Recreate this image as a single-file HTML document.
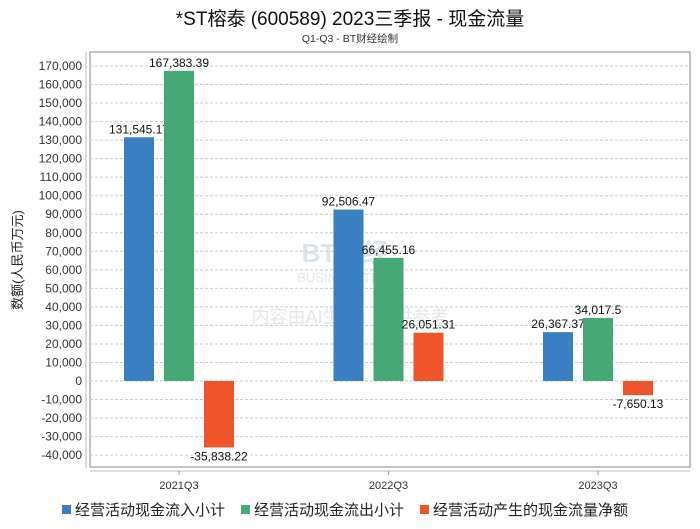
<!DOCTYPE html>
<html><head><meta charset="utf-8"><style>
body{margin:0;background:#fff;}
svg{font-family:"Liberation Sans","Noto Sans CJK SC",sans-serif;}
</style></head><body>
<svg width="700" height="524" xmlns="http://www.w3.org/2000/svg" id="chart">
<text x="350" y="25" text-anchor="middle" font-size="19" fill="#111">*ST榕泰 (600589) 2023三季报 - 现金流量</text>
<text x="350" y="42" text-anchor="middle" font-size="10.5" fill="#333">Q1-Q3 - BT财经绘制</text>
<text x="345" y="262" text-anchor="middle" font-size="26" fill="#dde3ea" font-weight="bold">BT财经</text>
<text x="350" y="282" text-anchor="middle" font-size="13" fill="#e3e7ec">BUSINESSTIMES</text>
<text x="350" y="323" text-anchor="middle" font-size="18" fill="#e6e6e6">内容由AI生成，仅供参考</text>
<rect x="90" y="52" width="600" height="415" fill="none" stroke="#888"/>
<line x1="86" y1="52" x2="86" y2="468" stroke="#bbb"/>
<line x1="90" y1="471" x2="690" y2="471" stroke="#bbb"/>
<text transform="translate(22,260) rotate(-90)" text-anchor="middle" font-size="13" fill="#222">数额(人民币万元)</text>
<g id="grid"></g><g id="bars"></g>
<g font-size="15" fill="#222">
<rect x="62" y="505" width="9" height="9" fill="#3a7fc1"/>
<text x="75" y="515">经营活动现金流入小计</text>
<rect x="241" y="505" width="9" height="9" fill="#46a877"/>
<text x="254" y="515">经营活动现金流出小计</text>
<rect x="420" y="505" width="9" height="9" fill="#f0542a"/>
<text x="433" y="515">经营活动产生的现金流量净额</text>
</g>
</svg>
<script>
const categories=["2021Q3","2022Q3","2023Q3"];
const inflow=[131545.17,92506.47,26367.37];
const outflow=[167383.39,66455.16,34017.5];
const net=[-35838.22,26051.31,-7650.13];
const labelsIn=["131,545.17","92,506.47","26,367.37"];
const labelsOut=["167,383.39","66,455.16","34,017.5"];
const labelsNet=["-35,838.22","26,051.31","-7,650.13"];
const yTicks=[170000,160000,150000,140000,130000,120000,110000,100000,90000,80000,70000,60000,50000,40000,30000,20000,10000,0,-10000,-20000,-30000,-40000];
const NS="http://www.w3.org/2000/svg";
const y=v=>381-v*(315/170000);
const xc=i=>179+209.5*i;
const grid=document.getElementById('grid'),bars=document.getElementById('bars');
function mk(tag,a,p){const e=document.createElementNS(NS,tag);for(const k in a)e.setAttribute(k,a[k]);p.appendChild(e);return e;}
yTicks.forEach(t=>{
 const l=mk('line',{x1:90,x2:690,y1:y(t),y2:y(t),stroke:'#ccc','stroke-dasharray':'3,2'},grid);
 
 
 const tx=mk('text',{x:82,y:y(t)+4,'text-anchor':'end','font-size':12,fill:'#333'},grid);
 tx.textContent=t.toLocaleString('en-US');
 
 
});
const series=[[inflow,labelsIn,'#3a7fc1',-55,'bar-inflow'],[outflow,labelsOut,'#46a877',-15,'bar-outflow'],[net,labelsNet,'#f0542a',25,'bar-net']];
categories.forEach((c,i)=>{
 const tk=mk('line',{x1:xc(i),x2:xc(i),y1:471,y2:475,stroke:'#999'},grid);
 
 
 const t=mk('text',{x:xc(i),y:489,'text-anchor':'middle','font-size':11,fill:'#333'},grid);
 t.textContent=c;
 
 
 series.forEach(([arr,lab,col,off,nm])=>{
  const v=arr[i],top=Math.min(y(v),y(0)),h=Math.abs(y(v)-y(0));
  const r=mk('rect',{x:xc(i)+off,y:top,width:30,height:h,fill:col},bars);
  
  
  const lt=mk('text',{x:xc(i)+off+15,y:v>=0?y(v)-4:y(v)+13,'text-anchor':'middle','font-size':12,fill:'#111'},bars);
  lt.textContent=lab[i];
  
  
 });
});
</script>
</body></html>
